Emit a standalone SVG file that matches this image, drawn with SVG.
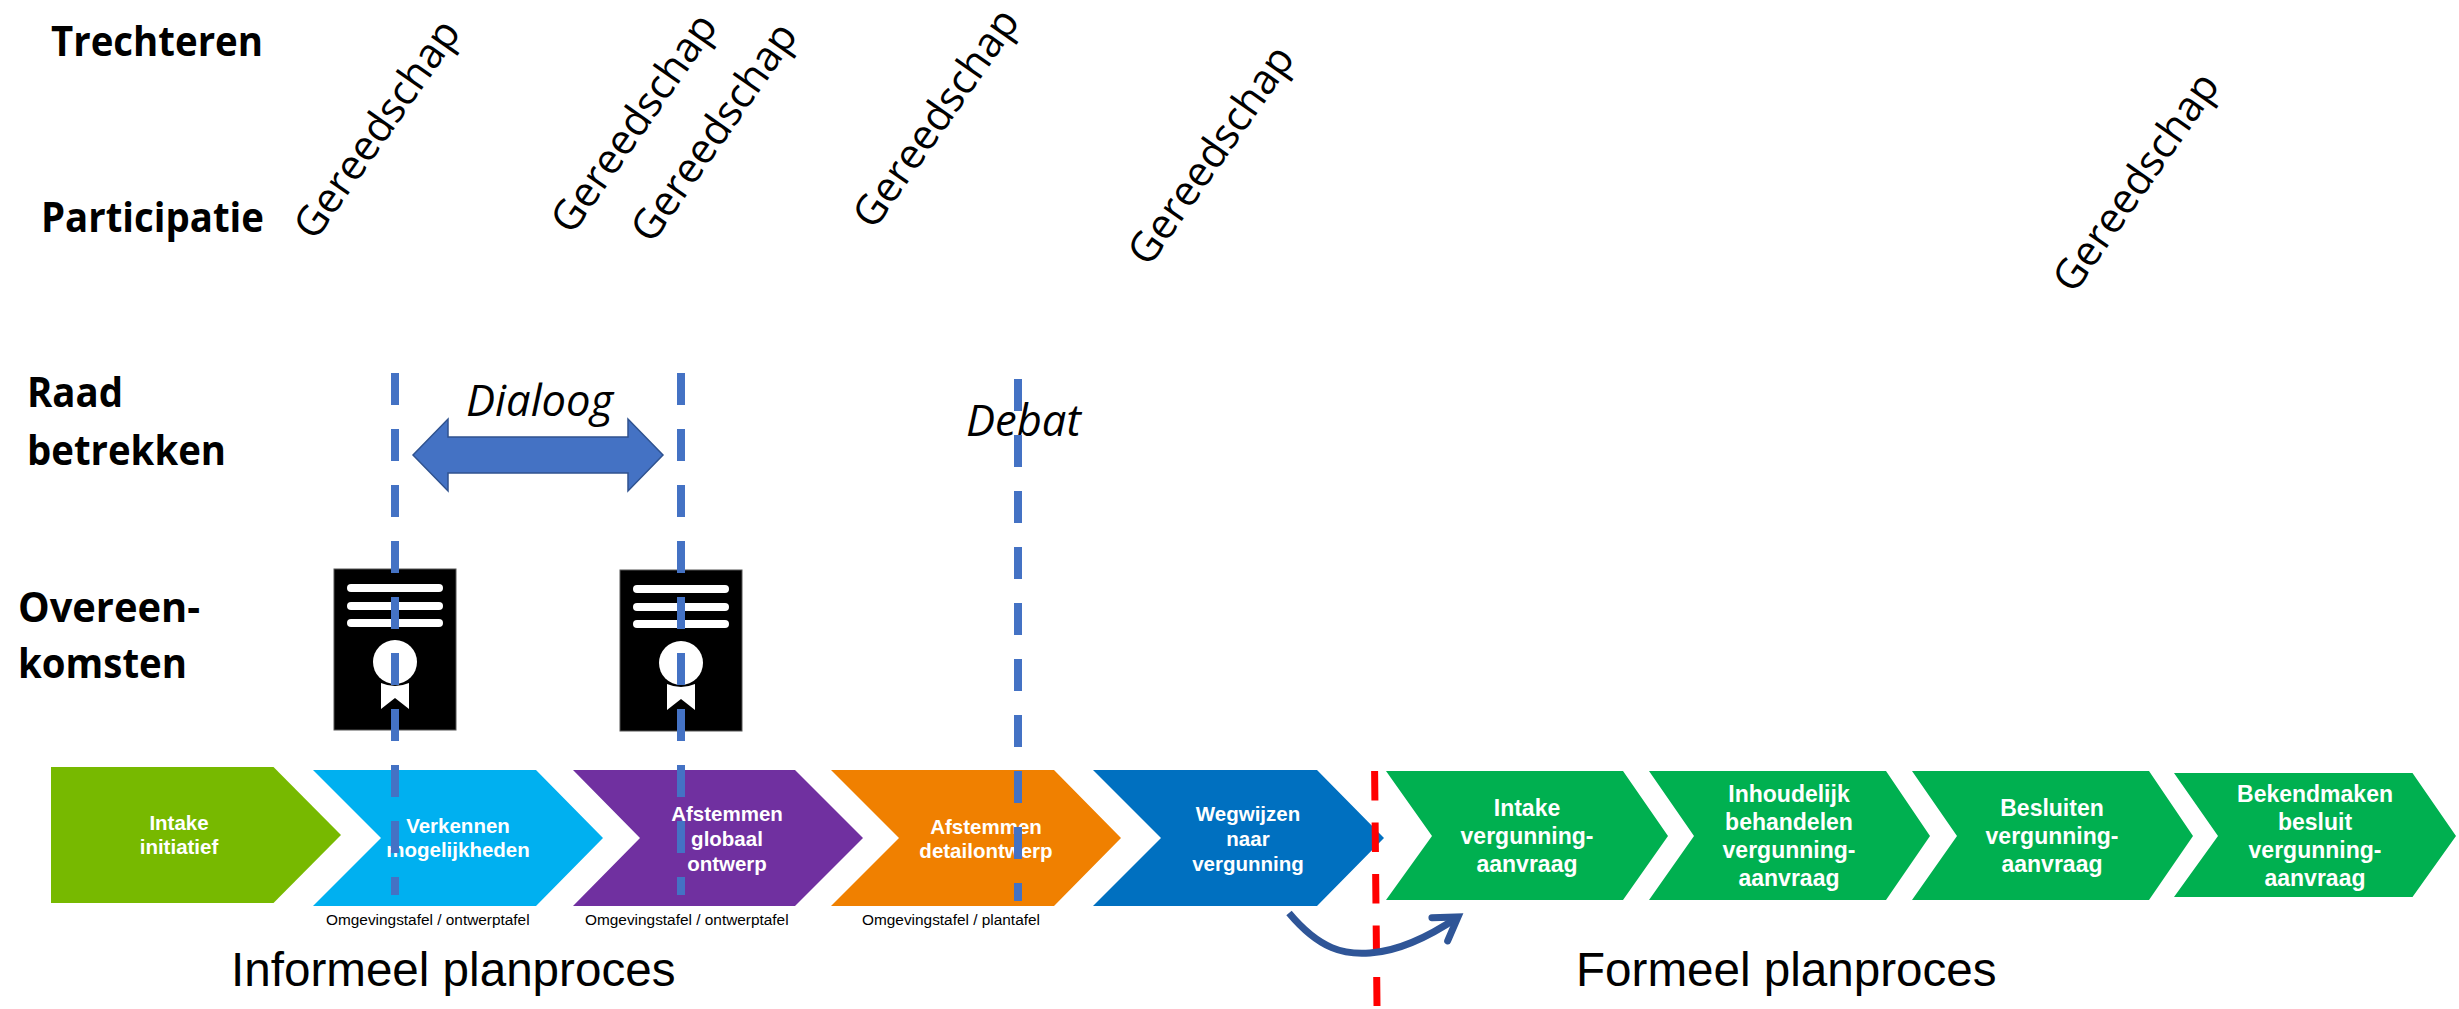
<svg xmlns="http://www.w3.org/2000/svg" width="2459" height="1009" viewBox="0 0 2459 1009">
<style>
text{font-family:"Liberation Sans",Arial,sans-serif}
.c{font-weight:bold;fill:#fff;text-anchor:middle}
.s{font-size:20.5px}.l{font-size:23px}
.tiny{font-size:15.4px;fill:#000}
.big{font-size:47.6px;fill:#000}
.lab{font-family:"Open Sans",Lato,sans-serif;font-weight:bold;font-size:41px;fill:#000}
.tool{font-family:"Open Sans",sans-serif;font-size:41.5px;fill:#000;text-anchor:middle}
.it{font-family:"Open Sans",sans-serif;font-style:italic;font-size:43.5px;fill:#000}
.blue{stroke:#4472C4;stroke-width:8;stroke-dasharray:32 24;fill:none}
.red{stroke:#FF0000;stroke-width:7;stroke-dasharray:29.5 22;fill:none}
</style>
<defs>
<marker id="open" markerUnits="userSpaceOnUse" markerWidth="44" markerHeight="44" refX="30" refY="22" orient="auto" viewBox="0 0 44 44">
<path d="M8,8 L30,22 L8,36" fill="none" stroke="#2F5597" stroke-width="7" stroke-linecap="round" stroke-linejoin="miter"/>
</marker>
<g id="cert">
<rect x="-61" y="0" width="122" height="161" fill="#000" stroke="#555" stroke-width="1"/>
<rect x="-48" y="15" width="96" height="8" rx="4" fill="#fff"/>
<rect x="-48" y="33" width="96" height="8" rx="4" fill="#fff"/>
<rect x="-48" y="50" width="96" height="8" rx="4" fill="#fff"/>
<circle cx="0" cy="93" r="22" fill="#fff"/>
<path d="M-14,114 Q0,120 14,114 V140 L0,129 L-14,140 Z" fill="#fff"/>
</g>
</defs>

<g id="label-trechteren"><text class="lab" x="51" y="56" textLength="212" lengthAdjust="spacingAndGlyphs">Trechteren</text></g>
<g id="label-participatie"><text class="lab" x="41" y="232" textLength="223" lengthAdjust="spacingAndGlyphs">Participatie</text></g>
<g id="label-raad"><text class="lab" x="27" y="407" textLength="96" lengthAdjust="spacingAndGlyphs">Raad</text><text class="lab" x="27" y="465" textLength="199" lengthAdjust="spacingAndGlyphs">betrekken</text></g>
<g id="label-overeenkomsten"><text class="lab" x="18" y="622" textLength="182" lengthAdjust="spacingAndGlyphs">Overeen-</text><text class="lab" x="18" y="678" textLength="169" lengthAdjust="spacingAndGlyphs">komsten</text></g>

<g id="tool-1"><text class="tool" transform="translate(377,129) rotate(-55)" y="14">Gereedschap</text></g>
<g id="tool-2"><text class="tool" transform="translate(634,123) rotate(-55)" y="14">Gereedschap</text></g>
<g id="tool-3"><text class="tool" transform="translate(714,132) rotate(-55)" y="14">Gereedschap</text></g>
<g id="tool-4"><text class="tool" transform="translate(936,118) rotate(-55)" y="14">Gereedschap</text></g>
<g id="tool-5"><text class="tool" transform="translate(1211,155) rotate(-55)" y="14">Gereedschap</text></g>
<g id="tool-6"><text class="tool" transform="translate(2136,182) rotate(-55)" y="14">Gereedschap</text></g>

<g id="dialoog"><text class="it" x="466" y="416">Dialoog</text>
<path d="M413,455 L448,419 V437 H628 V419 L663,455 L628,491 V473 H448 V491 Z" fill="#4472C4" stroke="#2F528F" stroke-width="1.5"/></g>
<g id="debat"><text class="it" x="966" y="436">Debat</text></g>

<g id="cert-1"><use href="#cert" x="395" y="569"/></g>
<g id="cert-2"><use href="#cert" x="681" y="570"/></g>

<g id="step-intake-initiatief"><path d="M51,767 H273.5 L341,835 L273.5,903 H51 Z" fill="#77B900"/>
<text class="c s" x="179" y="830">Intake</text><text class="c s" x="179" y="854">initiatief</text></g>
<g id="step-verkennen"><path d="M313,770 H536 L603,838 L536,906 H313 L381,838 Z" fill="#00B0F0"/>
<text class="c s" x="458" y="833">Verkennen</text><text class="c s" x="458" y="857">mogelijkheden</text></g>
<g id="step-globaal"><path d="M573,770 H795 L863,838 L795,906 H573 L640,838 Z" fill="#7030A0"/>
<text class="c s" x="727" y="821">Afstemmen</text><text class="c s" x="727" y="846">globaal</text><text class="c s" x="727" y="871">ontwerp</text></g>
<g id="step-detail"><path d="M831,770 H1054 L1121,838 L1054,906 H831 L899,838 Z" fill="#F08000"/>
<text class="c s" x="986" y="834">Afstemmen</text><text class="c s" x="986" y="858">detailontwerp</text></g>
<g id="step-wegwijzen"><path d="M1093,770 H1317 L1384,838 L1317,906 H1093 L1161,838 Z" fill="#0070C0"/>
<text class="c s" x="1248" y="821">Wegwijzen</text><text class="c s" x="1248" y="846">naar</text><text class="c s" x="1248" y="871">vergunning</text></g>
<g id="step-intake-aanvraag"><path d="M1386,771 H1623 L1668,836 L1623,900 H1386 L1432,836 Z" fill="#00B050"/>
<text class="c l" x="1527" y="816">Intake</text><text class="c l" x="1527" y="844">vergunning-</text><text class="c l" x="1527" y="872">aanvraag</text></g>
<g id="step-inhoudelijk"><path d="M1649,771 H1886 L1930,836 L1886,900 H1649 L1694,836 Z" fill="#00B050"/>
<text class="c l" x="1789" y="802">Inhoudelijk</text><text class="c l" x="1789" y="830">behandelen</text><text class="c l" x="1789" y="858">vergunning-</text><text class="c l" x="1789" y="886">aanvraag</text></g>
<g id="step-besluiten"><path d="M1912,771 H2149 L2193,836 L2149,900 H1912 L1957,836 Z" fill="#00B050"/>
<text class="c l" x="2052" y="816">Besluiten</text><text class="c l" x="2052" y="844">vergunning-</text><text class="c l" x="2052" y="872">aanvraag</text></g>
<g id="step-bekendmaken"><path d="M2174,773 H2412.5 L2456,836 L2412.5,897 H2174 L2218,836 Z" fill="#00B050"/>
<text class="c l" x="2315" y="802">Bekendmaken</text><text class="c l" x="2315" y="830">besluit</text><text class="c l" x="2315" y="858">vergunning-</text><text class="c l" x="2315" y="886">aanvraag</text></g>

<g id="note-1"><text class="tiny" x="326" y="925">Omgevingstafel / ontwerptafel</text></g>
<g id="note-2"><text class="tiny" x="585" y="925">Omgevingstafel / ontwerptafel</text></g>
<g id="note-3"><text class="tiny" x="862" y="925">Omgevingstafel / plantafel</text></g>
<g id="phase-informeel"><text class="big" x="231" y="986">Informeel planproces</text></g>
<g id="phase-formeel"><text class="big" x="1576" y="986">Formeel planproces</text></g>

<g id="connectors">
<path class="blue" d="M395,373 V895"/>
<path class="blue" d="M681,373 V895"/>
<path class="blue" d="M1018,379 V901"/>
<path class="red" d="M1374.6,771 L1377,1006"/>
<path d="M1289,913 C1320,950 1345,955 1370,953 C1400,951 1430,936 1458,917" fill="none" stroke="#2F5597" stroke-width="7" marker-end="url(#open)"/>
</g>
</svg>
